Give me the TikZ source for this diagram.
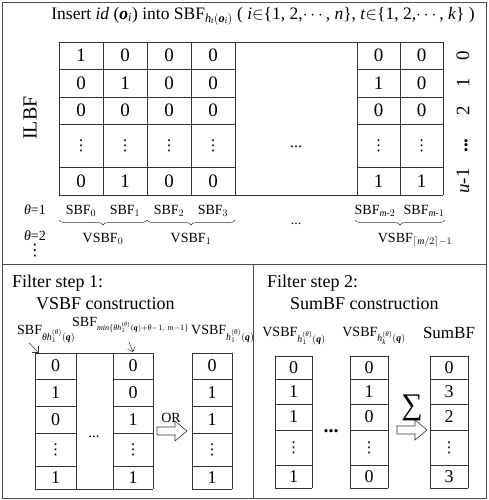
\documentclass[tikz,border=0pt]{standalone}
\usepackage{amsmath}
\usepackage{fontspec}
\setmainfont{Liberation Serif}
\newfontfamily\dvfont{DejaVu Sans}
\usetikzlibrary{decorations.pathreplacing,arrows.meta}
\newcommand{\fs}[1]{\fontsize{#1}{#1}\selectfont}
\newcommand{\ti}[1]{\textit{#1}}
\newcommand{\bi}[1]{\textbf{\textit{#1}}}
\newcommand{\vd}{{\dvfont\fs{15}⋮}}
\newcommand{\lowsub}[1]{\raisebox{-4pt}{\fs{8}#1}}
\begin{document}
\begin{tikzpicture}[x=1pt,y=-1pt,
  frameln/.style={draw=black!70, line width=0.9pt},
  gridln/.style={draw=black!80, line width=0.7pt},
  cell/.style={font=\fs{19}, inner sep=0pt},
  bcell/.style={font=\fs{18}, inner sep=0pt},
  lab/.style={font=\fs{14}, inner sep=0pt},
  captxt/.style={font=\fs{18}, inner sep=0pt, anchor=west},
  brc/.style={draw=black!80, line width=0.5pt, decorate, decoration={brace,mirror,amplitude=5pt}},
  hollow/.style={draw=black!80, line width=0.6pt, fill=white}]
\useasboundingbox (0,0) rectangle (488,500);
% frame
\draw[frameln] (2,2) rectangle (486,498);
\draw[frameln] (2,264) -- (486,264);
\draw[frameln] (253,264) -- (253,498);
% title
\node[font=\fs{17.5}, inner sep=0pt] (title) at (263,16) {Insert \ti{id} (\bi{o}$_{\ti{i}}$) into SBF$_{\ti{h}_{\ti{t}}(\bi{o}_{\ti{i}})}$ ( \ti{i}$\in$\{1, 2,$\cdots$, \ti{n}\}, \ti{t}$\in$\{1, 2,$\cdots$, \ti{k}\} )};
% top grid
\foreach \y in {42,195} \draw[gridln] (59,\y) -- (443,\y);
\foreach \y in {69,97,124,167} {\draw[gridln] (59,\y) -- (235,\y); \draw[gridln] (357,\y) -- (443,\y);}
\foreach \x in {59,103,147,191,235,357,400,443} \draw[gridln] (\x,42) -- (\x,195);
\foreach \r/\y/\a/\b/\c/\d/\e/\f in {0/55.5/1/0/0/0/0/0, 1/83/0/1/0/0/1/0, 2/110.5/0/0/0/0/0/0, 3/145.5/\vd/\vd/\vd/\vd/\vd/\vd, 4/181/0/1/0/0/1/1}{
  \node[cell] (t\r a) at (81,\y) {\a};
  \node[cell] (t\r b) at (125,\y) {\b};
  \node[cell] (t\r c) at (169,\y) {\c};
  \node[cell] (t\r d) at (213,\y) {\d};
  \node[cell] (t\r e) at (378.5,\y) {\e};
  \node[cell] (t\r f) at (421.5,\y) {\f};
}
\node[font=\fs{16}, inner sep=0pt] (tdots) at (296,147) {...};
\node[rotate=90, font=\fs{20}, inner sep=0pt] (ilbf) at (30,118) {ILBF};
% row labels
\node[rotate=90, cell] (r0) at (463,55.5) {0};
\node[rotate=90, cell] (r1) at (463,83) {1};
\node[rotate=90, cell] (r2) at (463,110.5) {2};
\node[rotate=90, cell, font=\fs{19}\bfseries] (r3) at (466,145.5) {...};
\node[rotate=90, cell] (r4) at (463,181) {\ti{u}-1};
% below matrix
\node[lab] (th1) at (35,210) {\ti{θ}=1};
\node[lab] (th2) at (35,236) {\ti{θ}=2};
\node[font=\fs{16}, inner sep=0pt] (thd) at (35,251) {{\dvfont ⋮}};
\node[lab] (s0) at (81,211) {SBF$_0$};
\node[lab] (s1) at (125,211) {SBF$_1$};
\node[lab] (s2) at (169,211) {SBF$_2$};
\node[lab] (s3) at (213,211) {SBF$_3$};
\node[lab] (sm2) at (375,211) {SBF$_{\ti{m}\text{-}2}$};
\node[lab] (sm1) at (424,211) {SBF$_{\ti{m}\text{-}1}$};
\node[lab] (sdots) at (296,224) {...};
\coordinate (b0) at (59,220); \coordinate (b1) at (147,220); \coordinate (b2) at (235,220);
\coordinate (b3) at (355,220); \coordinate (b4) at (445,220);
\draw[brc] (b0) -- (b1);
\draw[brc] (b1) -- (b2);
\draw[brc] (b3) -- (b4);
\node[lab] (v0) at (103,239) {VSBF$_0$};
\node[lab] (v1) at (191,239) {VSBF$_1$};
\node[lab] (vm) at (415,240) {VSBF$_{\lceil \ti{m}/2\rceil-1}$};
% bottom captions
\node[captxt] (f1) at (12,283) {Filter step 1:};
\node[captxt] (f1b) at (36,304) {VSBF construction};
\node[captxt] (f2) at (267,283) {Filter step 2:};
\node[captxt] (f2b) at (290,304) {SumBF construction};
% bottom-left labels
\node[lab, anchor=west] (la) at (17,334) {SBF$_{\ti{θh}_1^{(\ti{θ})}(\bi{q})}$};
\node[lab, anchor=west] (lb) at (72,325) {SBF\lowsub{$\ti{min}\{\ti{θh}_1^{(\ti{θ})}(\bi{q}){+}\ti{θ}{-}1,\,\ti{m}{-}1\}$}};
\node[lab, anchor=west] (lc) at (191,334) {VSBF$_{\ti{h}_1^{(\ti{θ})}(\bi{q})}$};
\coordinate (pa) at (29,343); \coordinate (pb) at (129,342);
\draw[black!80, line width=0.5pt, -{Straight Barb[length=4pt]}] (pa) -- (38,352);
\draw[black!80, line width=0.5pt, -{Straight Barb[length=4pt]}] (pb) -- (133,352);
% bottom-left grid
\foreach \x in {35,76,113,153,192,232} \draw[gridln] (\x,353) -- (\x,489);
\draw[gridln] (35,353) -- (153,353); \draw[gridln] (35,489) -- (153,489);
\draw[gridln] (192,353) -- (232,353); \draw[gridln] (192,489) -- (232,489);
\foreach \y in {379,406,433,466} {\draw[gridln] (35,\y) -- (76,\y); \draw[gridln] (113,\y) -- (153,\y); \draw[gridln] (192,\y) -- (232,\y);}
\foreach \r/\y/\a/\b/\c in {0/366/0/0/0, 1/392.5/1/0/1, 2/419.5/0/1/1, 3/449.5/\vd/\vd/\vd, 4/477.5/1/1/1}{
  \node[bcell] (la\r) at (55.5,\y) {\a};
  \node[bcell] (lb\r) at (133,\y) {\b};
  \node[bcell] (lc\r) at (212,\y) {\c};
}
\node[font=\fs{15}, inner sep=0pt] (ldots) at (94,437) {...};
\node[lab] (or) at (171,418) {OR};
\draw[hollow] (157,427) -- (175,427) -- (175,421) -- (187,431) -- (175,441) -- (175,435) -- (157,435) -- cycle;
% bottom-right labels
\node[lab] (ra) at (294,336) {VSBF$_{\ti{h}_1^{(\ti{θ})}(\bi{q})}$};
\node[lab] (rb) at (374,336) {VSBF$_{\ti{h}_{\ti{k}}^{(\ti{θ})}(\bi{q})}$};
\node[font=\fs{17}, inner sep=0pt] (rc) at (449,333) {SumBF};
% bottom-right grid
\foreach \x in {275,312,350,388,430,468} \draw[gridln] (\x,356) -- (\x,488);
\foreach \y in {356,379,404,430,465,488} {\draw[gridln] (275,\y) -- (312,\y); \draw[gridln] (350,\y) -- (388,\y); \draw[gridln] (430,\y) -- (468,\y);}
\foreach \r/\y/\a/\b/\c in {0/367.5/0/0/0, 1/391.5/1/1/3, 2/417/1/0/2, 3/447.5/\vd/\vd/\vd, 4/476.5/1/0/3}{
  \node[bcell] (ra\r) at (293.5,\y) {\a};
  \node[bcell] (rb\r) at (369,\y) {\b};
  \node[bcell] (rc\r) at (449,\y) {\c};
}
\node[font=\fs{20}\bfseries, inner sep=0pt] (rdots) at (331,431) {...};
\node[font=\fs{30}, inner sep=0pt] (sig) at (412,408) {∑};
\draw[hollow] (397,426) -- (415,426) -- (415,420) -- (427,430) -- (415,440) -- (415,434) -- (397,434) -- cycle;
\end{tikzpicture}
\end{document}
